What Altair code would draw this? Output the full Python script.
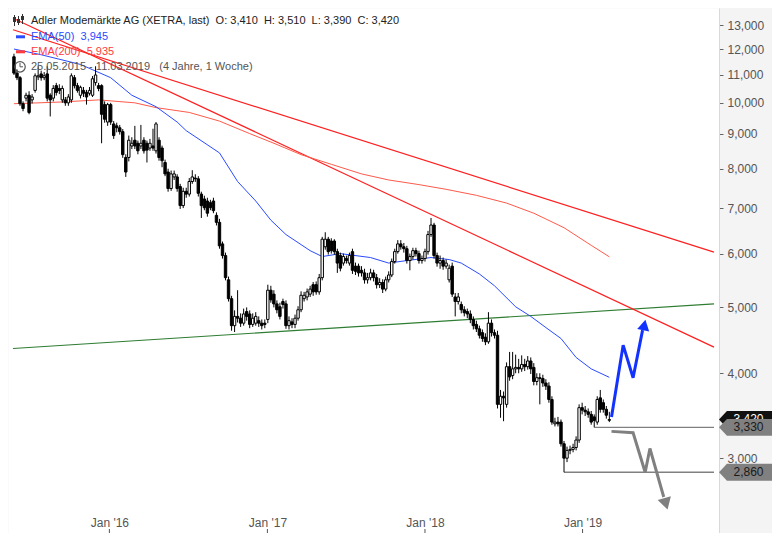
import altair as alt
import pandas as pd

FONT = "Liberation Sans"
START = "2015-05-25"

OPEN = [11.69, 11.06, 10.89, 9.97, 10.16, 10.26, 10.10, 10.43, 10.92, 11.03,
        10.89, 11.03, 10.26, 10.16, 10.60, 10.50, 10.10, 10.10, 10.00, 10.10,
        10.89, 10.60, 10.26, 10.43, 10.36, 10.33, 10.26, 10.71, 10.60, 10.60,
        9.94, 9.37, 9.94, 9.31, 9.25, 9.19, 9.07, 8.31, 8.31, 8.64,
        8.81, 8.72, 8.64, 8.81, 8.72, 8.58, 8.64, 8.50, 8.81, 8.58,
        8.17, 7.91, 7.48, 7.78, 7.78, 7.53, 7.06, 7.41, 7.34, 7.66,
        7.75, 7.73, 7.34, 7.22, 7.17, 7.13, 7.17, 6.83, 6.67, 6.20,
        5.96, 5.49, 5.15, 4.70, 4.85, 4.82, 4.74, 4.93, 4.89, 4.72,
        4.74, 4.78, 4.74, 4.74, 4.80, 5.30, 5.23, 5.06, 5.01, 5.10,
        5.06, 4.70, 4.76, 4.72, 4.82, 4.96, 5.15, 5.18, 5.23, 5.40,
        5.40, 5.27, 5.53, 6.14, 6.30, 6.26, 6.26, 6.04, 5.96, 5.81,
        5.90, 5.81, 6.04, 5.75, 5.75, 5.67, 5.62, 5.49, 5.53, 5.62,
        5.53, 5.40, 5.44, 5.32, 5.49, 5.58, 5.84, 6.04, 6.20, 6.14,
        6.10, 5.86, 5.94, 6.06, 6.00, 5.86, 5.90, 6.04, 6.40, 6.61,
        5.96, 5.81, 5.86, 5.75, 5.49, 5.75, 5.18, 5.10, 5.05, 4.96,
        4.93, 4.89, 4.80, 4.72, 4.65, 4.59, 4.52, 4.45, 4.74, 4.59,
        4.55, 3.60, 3.70, 3.60, 4.09, 3.97, 4.06, 4.08, 4.06, 4.12,
        4.09, 4.17, 4.08, 3.89, 3.94, 3.93, 3.87, 3.83, 3.66, 3.37,
        3.39, 3.39, 3.15, 3.00, 3.08, 3.09, 3.11, 3.19, 3.56, 3.53,
        3.51, 3.48, 3.45, 3.39, 3.68, 3.62, 3.54, 3.41]

HIGH = [11.81, 11.20, 10.95, 10.05, 10.35, 10.40, 10.30, 11.05, 11.32, 11.15,
        11.10, 11.32, 10.33, 10.62, 10.70, 10.65, 10.60, 10.20, 10.30, 11.05,
        10.99, 10.70, 10.60, 10.55, 10.45, 10.55, 10.95, 11.32, 10.70, 10.65,
        10.05, 10.00, 10.00, 9.40, 9.35, 9.28, 9.15, 8.40, 8.95, 8.90,
        9.25, 8.80, 9.28, 8.90, 8.80, 8.85, 9.16, 9.37, 8.90, 8.65,
        8.25, 8.00, 7.95, 7.95, 7.85, 7.60, 7.50, 7.50, 7.75, 7.96,
        7.85, 7.80, 7.40, 7.30, 7.25, 7.20, 7.25, 6.90, 6.75, 6.25,
        6.02, 5.55, 5.20, 4.95, 5.30, 4.90, 4.98, 5.00, 4.95, 4.90,
        4.92, 4.85, 4.80, 4.80, 5.40, 5.38, 5.30, 5.12, 5.08, 5.15,
        5.12, 4.85, 4.82, 4.88, 5.02, 5.28, 5.27, 5.33, 5.38, 5.45,
        5.46, 5.60, 6.35, 6.45, 6.35, 6.32, 6.30, 6.10, 6.02, 6.00,
        5.96, 6.02, 6.10, 5.82, 5.80, 5.75, 5.70, 5.62, 5.70, 5.68,
        5.60, 5.52, 5.50, 5.55, 5.65, 5.90, 6.10, 6.28, 6.28, 6.22,
        6.16, 6.00, 6.12, 6.12, 6.06, 5.96, 6.10, 6.48, 6.77, 6.66,
        6.02, 5.96, 5.92, 5.88, 5.78, 5.82, 5.25, 5.25, 5.10, 5.02,
        4.98, 4.95, 4.85, 4.78, 4.70, 4.64, 4.58, 4.92, 4.80, 4.64,
        4.62, 3.78, 3.76, 4.15, 4.30, 4.30, 4.26, 4.20, 4.25, 4.20,
        4.24, 4.22, 4.14, 4.00, 4.00, 3.98, 3.92, 3.88, 3.70, 3.44,
        3.45, 3.42, 3.18, 3.12, 3.13, 3.15, 3.23, 3.60, 3.62, 3.58,
        3.55, 3.52, 3.48, 3.70, 3.78, 3.66, 3.58, 3.51]

LOW = [10.99, 10.80, 9.90, 9.72, 10.05, 9.62, 9.98, 10.35, 10.80, 10.78,
       10.80, 10.05, 9.55, 10.05, 10.25, 10.30, 10.00, 9.90, 9.90, 10.00,
       10.50, 10.35, 10.15, 10.20, 9.94, 10.25, 10.20, 10.60, 10.40, 8.72,
       9.35, 9.25, 9.28, 8.85, 9.05, 8.98, 8.30, 7.78, 8.20, 8.55,
       8.55, 8.40, 8.55, 8.42, 8.17, 8.50, 8.50, 8.42, 8.22, 8.04,
       7.80, 7.40, 7.42, 7.70, 7.40, 6.98, 7.00, 7.25, 7.28, 7.60,
       7.65, 7.28, 6.77, 6.95, 6.80, 6.95, 6.88, 6.60, 6.10, 5.90,
       5.48, 5.10, 4.62, 4.60, 4.75, 4.68, 4.70, 4.78, 4.66, 4.68,
       4.70, 4.68, 4.64, 4.66, 4.74, 5.08, 5.00, 4.90, 4.80, 4.98,
       4.65, 4.64, 4.66, 4.66, 4.78, 4.92, 5.10, 5.12, 5.18, 5.20,
       5.22, 5.22, 5.48, 6.08, 5.98, 6.00, 5.98, 5.62, 5.65, 5.76,
       5.80, 5.76, 5.60, 5.58, 5.55, 5.55, 5.42, 5.42, 5.48, 5.46,
       5.33, 5.34, 5.25, 5.28, 5.44, 5.54, 5.80, 6.00, 6.08, 6.02,
       5.80, 5.67, 5.88, 5.94, 5.80, 5.80, 5.84, 5.98, 6.35, 5.90,
       5.74, 5.70, 5.68, 5.70, 5.44, 5.18, 4.85, 5.05, 4.90, 4.85,
       4.82, 4.74, 4.64, 4.60, 4.50, 4.45, 4.40, 4.42, 4.53, 4.50,
       3.55, 3.44, 3.40, 3.56, 3.90, 3.92, 4.00, 4.00, 4.02, 4.03,
       4.05, 3.99, 3.84, 3.84, 3.60, 3.82, 3.78, 3.62, 3.36, 3.34,
       3.34, 3.12, 2.86, 2.96, 3.04, 3.06, 3.08, 3.16, 3.48, 3.46,
       3.44, 3.36, 3.33, 3.36, 3.50, 3.50, 3.43, 3.39]

CLOSE = [11.06, 10.89, 9.97, 9.81, 10.26, 9.68, 10.20, 10.96, 10.96, 10.89,
         10.96, 10.16, 10.10, 10.50, 10.36, 10.43, 10.50, 10.00, 10.20, 10.96,
         10.60, 10.43, 10.54, 10.33, 10.20, 10.43, 10.85, 10.99, 10.50, 9.62,
         9.46, 9.94, 9.37, 8.95, 9.19, 9.07, 8.39, 7.91, 8.81, 8.72,
         8.64, 8.50, 8.72, 8.50, 8.52, 8.72, 8.58, 9.31, 8.31, 8.22,
         7.86, 7.48, 7.86, 7.86, 7.48, 7.06, 7.41, 7.34, 7.66, 7.78,
         7.73, 7.36, 7.06, 7.01, 6.88, 7.01, 6.94, 6.67, 6.16, 5.96,
         5.53, 5.15, 4.70, 4.85, 4.82, 4.74, 4.89, 4.85, 4.72, 4.82,
         4.85, 4.74, 4.70, 4.72, 5.30, 5.13, 5.06, 4.96, 4.85, 5.05,
         4.70, 4.78, 4.72, 4.82, 4.96, 5.21, 5.21, 5.27, 5.32, 5.27,
         5.27, 5.53, 6.30, 6.30, 6.04, 6.06, 6.04, 5.81, 5.71, 5.94,
         5.86, 5.96, 5.67, 5.65, 5.62, 5.62, 5.49, 5.53, 5.62, 5.53,
         5.40, 5.44, 5.32, 5.49, 5.58, 5.84, 6.04, 6.20, 6.14, 6.10,
         5.86, 5.94, 6.06, 6.00, 5.86, 5.90, 6.04, 6.40, 6.61, 5.96,
         5.81, 5.86, 5.75, 5.81, 5.71, 5.23, 5.10, 5.18, 4.96, 4.91,
         4.89, 4.80, 4.70, 4.65, 4.55, 4.50, 4.45, 4.74, 4.59, 4.55,
         3.60, 3.70, 3.68, 4.09, 3.95, 4.06, 4.08, 4.06, 4.12, 4.09,
         4.17, 4.06, 3.89, 3.94, 3.93, 3.87, 3.83, 3.66, 3.39, 3.39,
         3.37, 3.15, 3.00, 3.08, 3.09, 3.11, 3.19, 3.56, 3.53, 3.51,
         3.48, 3.39, 3.41, 3.66, 3.54, 3.54, 3.47, 3.42]

EMA50_WEEK = [0, 9, 22, 32, 39, 47, 54, 57, 68, 74, 80, 85, 90, 98, 102, 108,
              118, 124, 130, 138, 144, 148, 154, 159, 166, 171, 176, 181, 186, 191, 197]
EMA50_VAL = [12.00, 11.77, 11.39, 10.89, 10.26, 9.87, 9.37, 9.10, 8.44, 7.66, 7.17,
             6.72, 6.40, 6.06, 5.94, 6.00, 5.92, 5.81, 5.86, 5.92, 5.88, 5.81, 5.60,
             5.38, 5.01, 4.85, 4.67, 4.50, 4.22, 4.06, 3.945]
EMA200_WEEK = [0, 16, 28, 40, 47, 58, 68, 78, 86, 95, 105, 115, 124, 134, 143,
               153, 163, 172, 182, 191, 197]
EMA200_VAL = [9.97, 10.03, 10.10, 10.00, 9.84, 9.68, 9.40, 9.01, 8.72, 8.39, 8.12,
              7.86, 7.70, 7.58, 7.46, 7.31, 7.12, 6.88, 6.55, 6.17, 5.935]

X_START = "2015-05-22T18:20:00"
X_END = "2019-11-01T10:00:00"
TREND_DATES = [X_START, X_END]
GREEN_VALS = [4.35, 5.06]
RED_STEEP_VALS = [13.32, 4.37]
RED_UPPER_VALS = [12.81, 6.03]

BLUE_ARROW_DATES = ["2019-03-09", "2019-04-05", "2019-04-28", "2019-05-20"]
BLUE_ARROW_VALS = [3.45, 4.40, 3.94, 4.63]
BLUE_HEAD_DATE = ["2019-05-24"]
BLUE_HEAD_VAL = [4.71]
GRAY_ARROW_DATES = ["2019-03-09", "2019-04-28", "2019-05-26", "2019-06-06", "2019-07-08"]
GRAY_ARROW_VALS = [3.285, 3.27, 2.86, 3.10, 2.63]
GRAY_HEAD_DATE = ["2019-07-13"]
GRAY_HEAD_VAL = [2.57]

LEVEL_START = ["2019-01-28", "2018-11-19"]
LEVEL_VALS = [3.33, 2.86]

TAG_VALS = [3.42, 3.33, 2.86]
TAG_TEXT = ["3,420", "3,330", "2,860"]
TAG_FILL = ["#111111", "#808080", "#808080"]
TAG_INK = ["#ffffff", "#1a1a1a", "#1a1a1a"]

Y_TICKS = [3, 4, 5, 6, 7, 8, 9, 10, 11, 12, 13]
X_TICKS = ["2016-01-01", "2017-01-01", "2018-01-01", "2019-01-01"]
Y_DOMAIN = [2.328, 13.79]

LEGEND_TITLE = ("Adler Modemärkte AG (XETRA, last)\u00a0\u00a0O: 3,410\u00a0\u00a0H: 3,510"
                "\u00a0\u00a0L: 3,390\u00a0\u00a0C: 3,420")
LEGEND_EMA50 = "EMA(50)\u00a0\u00a03,945"
LEGEND_EMA200 = "EMA(200)\u00a0\u00a05,935"
LEGEND_RANGE = "25.05.2015 - 11.03.2019\u00a0\u00a0\u00a0(4 Jahre, 1 Woche)"

W, H = 711, 525
DAY = 86400000


def ms(s):
    return int(pd.Timestamp(s).value // 10**6)


t0 = ms(START)
candles = pd.DataFrame({
    "d": [t0 + 7 * i * DAY for i in range(len(CLOSE))],
    "o": OPEN, "h": HIGH, "l": LOW, "c": CLOSE,
})
ema50 = pd.DataFrame({"d": [t0 + 7 * w * DAY for w in EMA50_WEEK], "v": EMA50_VAL})
ema200 = pd.DataFrame({"d": [t0 + 7 * w * DAY for w in EMA200_WEEK], "v": EMA200_VAL})

xscale = alt.Scale(type="utc", domain=[ms(X_START), ms(X_END)])
yscale = alt.Scale(type="log", domain=Y_DOMAIN, nice=False)

AXIS_X = alt.Axis(values=[ms(s) for s in X_TICKS],
                  labelExpr="\"Jan '\" + utcFormat(datum.value, '%y')",
                  ticks=False, domain=False, grid=False, offset=-18, labelPadding=2,
                  labelFontSize=12, labelColor="#555555", labelFont=FONT, title="")
AXIS_Y = alt.Axis(orient="right", values=Y_TICKS,
                  labelExpr="replace(format(datum.value, '.3f'), '.', ',')",
                  tickSize=4, tickColor="#666666", domainColor="#d9d9d9", grid=False,
                  labelFontSize=12, labelColor="#555555", labelFont=FONT, labelPadding=4,
                  title="")


def X(field="d"):
    return alt.X(f"{field}:T", scale=xscale, axis=AXIS_X, title="")


def Y(field="v"):
    return alt.Y(f"{field}:Q", scale=yscale, axis=AXIS_Y, title="")


def line_df(dates, vals):
    return pd.DataFrame({"d": [ms(s) for s in dates], "v": vals, "k": list(range(len(vals)))})


def one():
    return alt.Chart(pd.DataFrame({"k": [0]}))


layers = []

# trend lines
for vals, col, sw in [(GREEN_VALS, "#2e7d32", 1.1), (RED_STEEP_VALS, "#ff1f1f", 1.2),
                      (RED_UPPER_VALS, "#ff1f1f", 1.2)]:
    layers.append(alt.Chart(line_df(TREND_DATES, vals)).mark_line(color=col, strokeWidth=sw)
                  .encode(x=X(), y=Y(), order="k:Q"))

# EMA lines
layers.append(alt.Chart(ema200).mark_line(color="#ff5a4a", strokeWidth=1).encode(x=X(), y=Y()))
layers.append(alt.Chart(ema50).mark_line(color="#2a4bff", strokeWidth=1).encode(x=X(), y=Y()))

# horizontal levels
levels = pd.DataFrame({"d": [ms(s) for s in LEVEL_START], "d2": [ms(X_END)] * len(LEVEL_VALS),
                       "v": LEVEL_VALS})
layers.append(alt.Chart(levels).mark_rule(color="#808080", strokeWidth=1.3)
              .encode(x=X(), x2="d2:T", y=Y()))

# candles
base = alt.Chart(candles)
layers.append(base.mark_rule(color="black", strokeWidth=1).encode(
    x=X(), y=Y("l"), y2="h:Q"))
layers.append(base.mark_bar(size=2.4, stroke="black", strokeWidth=1).encode(
    x=X(), y=Y("o"), y2="c:Q",
    fill=alt.condition("datum.c >= datum.o", alt.value("white"), alt.value("black"))))

# arrows
layers.append(alt.Chart(line_df(BLUE_ARROW_DATES, BLUE_ARROW_VALS))
              .mark_line(color="#1233ff", strokeWidth=3, strokeJoin="miter")
              .encode(x=X(), y=Y(), order="k:Q"))
layers.append(alt.Chart(line_df(BLUE_HEAD_DATE, BLUE_HEAD_VAL))
              .mark_point(shape="triangle-up", filled=True, size=150, angle=12, color="#1233ff", opacity=1)
              .encode(x=X(), y=Y()))
layers.append(alt.Chart(line_df(GRAY_ARROW_DATES, GRAY_ARROW_VALS))
              .mark_line(color="#808080", strokeWidth=3, strokeJoin="miter")
              .encode(x=X(), y=Y(), order="k:Q"))
layers.append(alt.Chart(line_df(GRAY_HEAD_DATE, GRAY_HEAD_VAL))
              .mark_point(shape="triangle-up", filled=True, size=190, angle=164, color="#808080", opacity=1)
              .encode(x=X(), y=Y()))

# x ticks at bottom
layers.append(alt.Chart(pd.DataFrame({"d": [ms(s) for s in X_TICKS]}))
              .mark_rule(color="#555555", strokeWidth=1)
              .encode(x=X(), y=alt.value(H - 4), y2=alt.value(H)))

# price tags on the axis
TAG_PATH = "M -1 0 L -0.7 -0.32 L 1 -0.32 L 1 0.32 L -0.7 0.32 Z"
for v, txt, fill, ink in zip(TAG_VALS, TAG_TEXT, TAG_FILL, TAG_INK):
    tdf = pd.DataFrame({"v": [v], "t": [txt]})
    layers.append(alt.Chart(tdf).mark_point(shape=TAG_PATH, filled=True, size=2809, color=fill, opacity=1)
                  .encode(x=alt.value(W + 26.5), y=Y()))
    layers.append(alt.Chart(tdf).mark_text(font=FONT, fontSize=12, color=ink, align="center", baseline="middle", dx=3)
                  .encode(x=alt.value(W + 26.5), y=Y(), text="t:N"))


# legend
def legend_text(txt, y, col):
    return alt.Chart(pd.DataFrame({"t": [txt]})).mark_text(
        font=FONT, fontSize=11, color=col, align="left", baseline="middle").encode(
        x=alt.value(23), y=alt.value(y), text="t:N")


layers.append(legend_text(LEGEND_TITLE, 12.5, "#222222"))
layers.append(legend_text(LEGEND_EMA50, 28.8, "#2a4bff"))
layers.append(legend_text(LEGEND_EMA200, 43.8, "#ff3b3b"))
layers.append(legend_text(LEGEND_RANGE, 58.8, "#555555"))

# legend icons
for xv, y1, y2, b1, b2 in [(6.5, 7, 18, 9, 14), (10.5, 8, 17, 11, 15), (14.5, 6, 16, 8, 12)]:
    layers.append(one().mark_rule(color="#333333", strokeWidth=1).encode(
        x=alt.value(xv), y=alt.value(y1), y2=alt.value(y2)))
    layers.append(one().mark_rule(color="#333333", strokeWidth=3).encode(
        x=alt.value(xv), y=alt.value(b1), y2=alt.value(b2)))
layers.append(one().mark_rule(color="#2a4bff", strokeWidth=3).encode(
    x=alt.value(8), x2=alt.value(17), y=alt.value(28.8)))
layers.append(one().mark_rule(color="#ff3b3b", strokeWidth=3).encode(
    x=alt.value(8), x2=alt.value(17), y=alt.value(43.8)))
layers.append(one().mark_point(shape="circle", filled=False, size=110, color="#555555", strokeWidth=1.2, opacity=1)
              .encode(x=alt.value(12), y=alt.value(58.8)))
layers.append(one().mark_rule(color="#555555", strokeWidth=1).encode(
    x=alt.value(12), y=alt.value(55), y2=alt.value(58.8)))
layers.append(one().mark_rule(color="#555555", strokeWidth=1).encode(
    x=alt.value(12), x2=alt.value(15), y=alt.value(58.8)))

chart = alt.layer(*layers).properties(
    width=W, height=H,
    autosize=alt.AutoSizeParams(type="none"),
    padding={"left": 0, "top": 0, "right": 53, "bottom": 0},
).configure(background="#f4f4f4").configure_view(fill="white", stroke="transparent")

chart.save("out.html", embed_options={"renderer": "svg", "actions": False})
